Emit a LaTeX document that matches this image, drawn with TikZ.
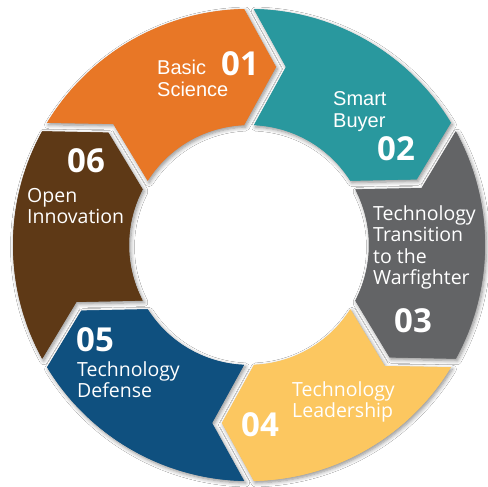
\documentclass[tikz,border=0pt]{standalone}
\usepackage{fontspec}
\setmainfont{Open Sans}
\newfontfamily\arialf{Liberation Sans}
\usetikzlibrary{calc,shadows.blur}
\definecolor{cOrange}{RGB}{232,119,38}
\definecolor{cTeal}{RGB}{41,152,158}
\definecolor{cGray}{RGB}{99,100,102}
\definecolor{cYellow}{RGB}{252,199,96}
\definecolor{cBlue}{RGB}{15,80,127}
\definecolor{cBrown}{RGB}{94,57,22}
\begin{document}
\begin{tikzpicture}[x=1pt,y=1pt,
  segshadow/.style={fill=#1,blur shadow={shadow blur steps=6,shadow xshift=1.5pt,shadow yshift=-2pt,shadow blur radius=4pt,shadow opacity=45}},
  segfill/.style={fill=#1},
  lbl/.style={text=white,inner sep=0pt,anchor=base west,align=left,font=\fontsize{19.5}{21.5}\selectfont},
  albl/.style={text=white,inner sep=0pt,anchor=base west,align=left,font=\arialf\fontsize{20}{22}\selectfont},
  num/.style={text=white,inner sep=0pt,anchor=base west,font=\fontsize{33}{36}\selectfont\bfseries}]
\useasboundingbox (0,0) rectangle (488,487);
\fill[white] (0,0) rectangle (488,487);
\begin{scope}[shift={(249,242)}]
  \foreach \b/\c in {90/cOrange,30/cTeal,-30/cGray,-90/cYellow,-150/cBlue,150/cBrown}{
    \pgfmathsetmacro\a{\b+60}
    \path[segshadow=\c] (\a-1.2:236) arc[start angle=\a-1.2,end angle=\b+1.2,radius=236]
      -- ($(\b:178)+(\b-90:27)$) -- (\b+2.4:120)
      arc[start angle=\b+2.4,end angle=\a-2.4,radius=120]
      -- ($(\a:178)+(\a-90:37)$) -- cycle;
  }
  \foreach \b/\c in {90/cOrange,30/cTeal,-30/cGray,-90/cYellow,-150/cBlue,150/cBrown}{
    \pgfmathsetmacro\a{\b+60}
    \path[segfill=\c] (\a-1.2:236) arc[start angle=\a-1.2,end angle=\b+1.2,radius=236]
      -- ($(\b:178)+(\b-90:27)$) -- (\b+2.4:120)
      arc[start angle=\b+2.4,end angle=\a-2.4,radius=120]
      -- ($(\a:178)+(\a-90:37)$) -- cycle;
  }
\end{scope}
\node[albl] (t1) at (157,390) {Basic\\Science};
\node[num] (n1) at (221,411) {01};
\node[albl] (t2) at (333,359) {Smart\\Buyer};
\node[num] (n2) at (377,326) {02};
\node[lbl] (t3) at (373,202) {Technology\\Transition\\to the\\Warfighter};
\node[num] (n3) at (394,154) {03};
\node[lbl] (t4) at (292,69) {Technology\\Leadership};
\node[num] (n4) at (241,50) {04};
\node[num] (n5) at (76,135) {05};
\node[lbl] (t5) at (77,89) {Technology\\Defense};
\node[num] (n6) at (67,314) {06};
\node[lbl] (t6) at (27,263) {Open\\Innovation};
\end{tikzpicture}
\end{document}
